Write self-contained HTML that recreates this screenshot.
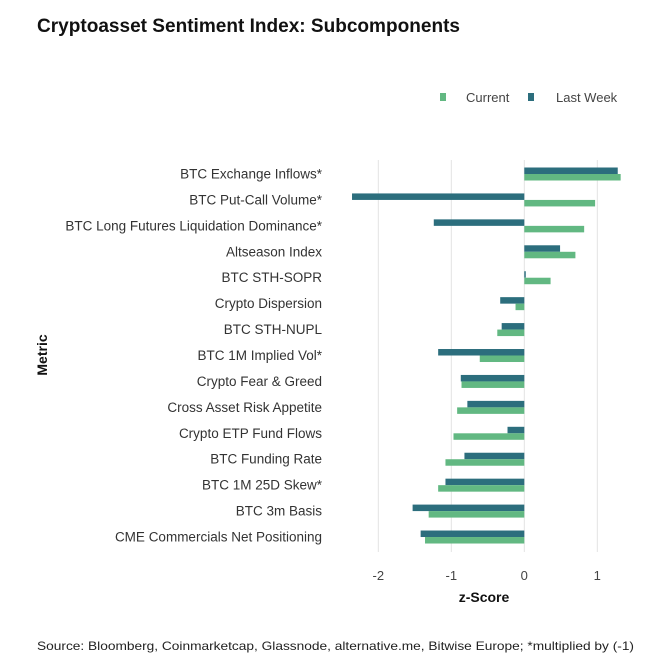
<!DOCTYPE html>
<html><head><meta charset="utf-8"><style>
html,body{margin:0;padding:0;background:#fff;}
svg{display:block;font-family:"Liberation Sans",Arial,sans-serif;}
</style></head><body>
<svg id="chart" width="671" height="671" viewBox="0 0 671 671">
<text x="37" y="32" font-size="19" font-weight="bold" fill="#111" textLength="423" lengthAdjust="spacingAndGlyphs">Cryptoasset Sentiment Index: Subcomponents</text>
<g>
<rect x="440" y="93" width="6" height="8" fill="#62b882"/>
<text x="466" y="102" font-size="13" fill="#444">Current</text>
<rect x="528" y="93" width="6" height="8" fill="#2c6e7d"/>
<text x="556" y="102" font-size="13" fill="#444">Last Week</text>
</g>
<g id="grid"></g>
<g id="bars"></g>
<g id="labels"></g>
<g id="ticks"></g>
<text x="484" y="602" font-size="14" font-weight="bold" text-anchor="middle" fill="#111">z-Score</text>
<text transform="translate(47,355) rotate(-90)" font-size="14" font-weight="bold" text-anchor="middle" fill="#111">Metric</text>
<text x="37" y="650" font-size="12" fill="#222" textLength="597" lengthAdjust="spacingAndGlyphs">Source: Bloomberg, Coinmarketcap, Glassnode, alternative.me, Bitwise Europe; *multiplied by (-1)</text>
</svg>
<script>
const categories=["BTC Exchange Inflows*","BTC Put-Call Volume*","BTC Long Futures Liquidation Dominance*","Altseason Index","BTC STH-SOPR","Crypto Dispersion","BTC STH-NUPL","BTC 1M Implied Vol*","Crypto Fear & Greed","Cross Asset Risk Appetite","Crypto ETP Fund Flows","BTC Funding Rate","BTC 1M 25D Skew*","BTC 3m Basis","CME Commercials Net Positioning"];
const lastWeek=[1.28,-2.36,-1.24,0.49,0.02,-0.33,-0.31,-1.18,-0.87,-0.78,-0.23,-0.82,-1.08,-1.53,-1.42];
const current=[1.32,0.97,0.82,0.70,0.36,-0.12,-0.37,-0.61,-0.86,-0.92,-0.97,-1.08,-1.18,-1.31,-1.36];
const ticks=[-2,-1,0,1];
const NS="http://www.w3.org/2000/svg";
const x=v=>524.3+v*73;
const rowY=i=>174+i*25.93;
function mk(tag,attrs,parent){const e=document.createElementNS(NS,tag);for(const k in attrs)e.setAttribute(k,attrs[k]);document.getElementById(parent).appendChild(e);return e;}
ticks.forEach(t=>{
 const g=mk("line",{x1:x(t),x2:x(t),y1:160,y2:552,stroke:"#e3e3e3","stroke-width":1},"grid");
 
 
 const l=mk("text",{x:x(t),y:580,"font-size":13,"text-anchor":"middle",fill:"#444"},"ticks");
 l.textContent=t===0?"0":String(t);
 
 
});
categories.forEach((c,i)=>{
 const y=rowY(i);
 const a=lastWeek[i],b=current[i];
 const r1=mk("rect",{x:Math.min(x(0),x(a)),y:y-6.5,width:Math.abs(x(a)-x(0)),height:6.5,fill:"#2c6e7d"},"bars");
 
 
 const r2=mk("rect",{x:Math.min(x(0),x(b)),y:y,width:Math.abs(x(b)-x(0)),height:6.5,fill:"#62b882"},"bars");
 
 
 const t=mk("text",{x:322,y:y+4.5,"font-size":13.5,"text-anchor":"end",fill:"#333"},"labels");
 t.textContent=c;
 
 
});
</script>
</body></html>
